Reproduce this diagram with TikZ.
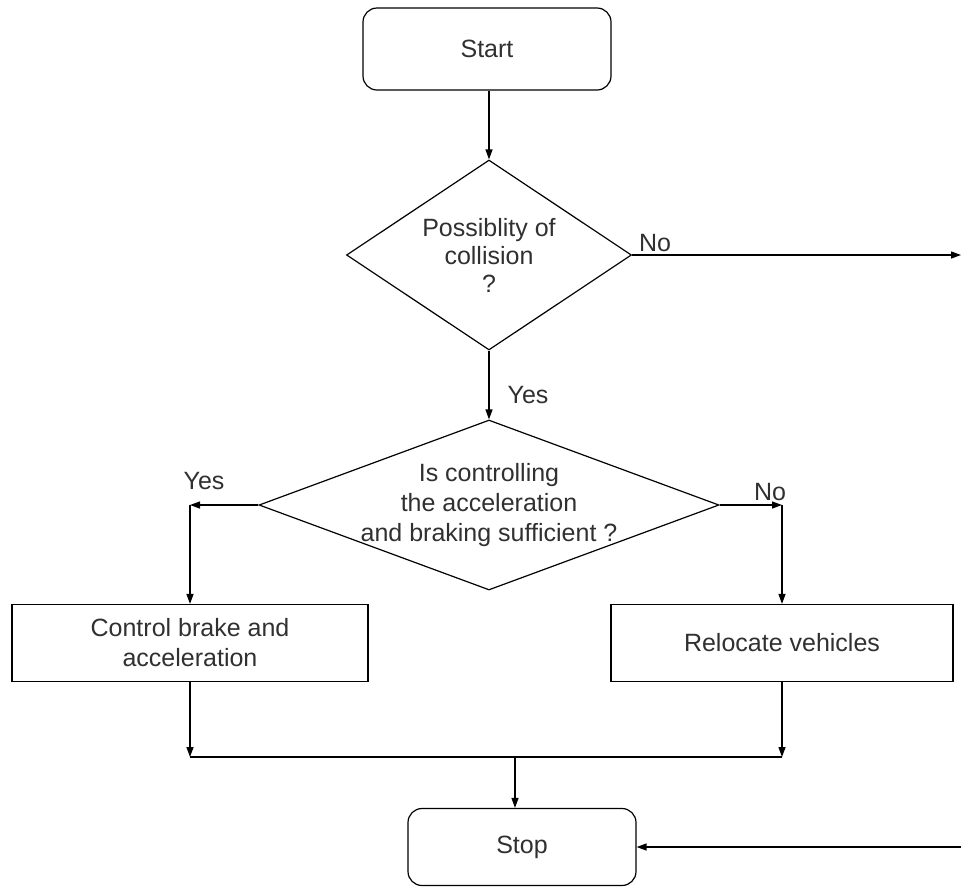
\documentclass[tikz,border=0pt]{standalone}
\usepackage{fontspec}
\setmainfont{Liberation Sans}
\usetikzlibrary{shapes.geometric,arrows.meta}
\definecolor{txt}{HTML}{303030}
\begin{document}
\begin{tikzpicture}[x=1pt,y=-1pt,
  every node/.style={font=\fontsize{25}{30}\selectfont, text=txt},
  term/.style={draw, rounded corners=14pt, line width=1.2pt, inner sep=0pt},
  proc/.style={draw, rectangle, line width=1.2pt, inner sep=0pt, align=center},
  dia/.style={draw, diamond, line width=1.2pt, inner sep=0pt},
  lbl/.style={align=center, inner sep=0pt},
  conn/.style={line width=1.3pt, -{Triangle[length=10pt,width=7pt]}},
  plain/.style={line width=1.3pt}
]
\useasboundingbox (0,0) rectangle (961,887);
\node[term, minimum width=248pt, minimum height=82pt] (start) at (487,49) {Start};
\node[dia, minimum width=285pt, minimum height=190pt,
  label={[lbl,font=\fontsize{25}{28}\selectfont]center:Possiblity of\\collision\\?}] (d1) at (489,255) {};
\node[dia, minimum width=460pt, minimum height=170pt,
  label={[lbl]center:Is controlling\\the acceleration\\and braking sufficient ?}] (d2) at (489,505) {};
\node[proc, minimum width=356pt, minimum height=77pt] (b1) at (190,643) {Control brake and\\acceleration};
\node[proc, minimum width=342pt, minimum height=77pt] (b2) at (782,643) {Relocate vehicles};
\node[term, minimum width=228pt, minimum height=77pt] (stop) at (522,847) {Stop};

\node (no1) at (655,243) {No};
\node (yes1) at (528,395) {Yes};
\node (yes2) at (204,481) {Yes};
\node (no2) at (770,492) {No};

\coordinate (outR) at (961,255);
\coordinate (inR) at (961,847);
\coordinate (L) at (190,505);
\coordinate (R) at (782,505);
\coordinate (jl) at (190,757);
\coordinate (jr) at (782,757);
\coordinate (jm) at (515,757);

\draw[conn] (start.south -| d1.north) -- (d1.north);
\draw[conn] (d1.east) -- (outR);
\draw[conn] (d1.south) -- (d2.north);
\draw[conn] (d2.west) -- (L);
\draw[conn] (L) -- (b1.north);
\draw[conn] (d2.east) -- (R);
\draw[conn] (R) -- (b2.north);
\draw[conn] (b1.south) -- (jl);
\draw[conn] (b2.south) -- (jr);
\draw[plain] (jl) -- (jr);
\draw[conn] (jm) -- (jm |- stop.north);
\draw[conn] (inR) -- (stop.east);
\end{tikzpicture}
\end{document}
